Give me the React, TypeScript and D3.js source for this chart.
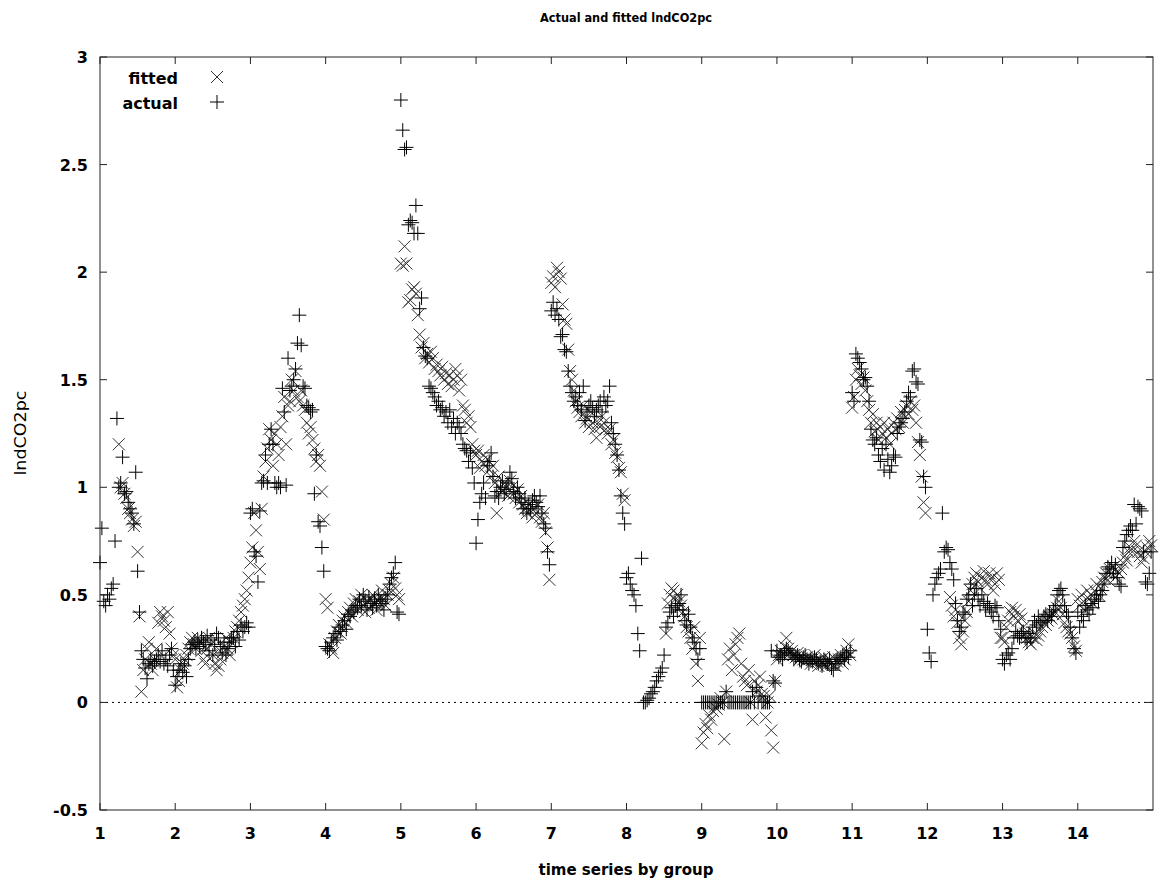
import React from 'react';
import * as d3 from 'd3';

// 14 groups, 40 observations each
const groups = [1, 2, 3, 4, 5, 6, 7, 8, 9, 10, 11, 12, 13, 14];
const obsPerGroup = 40;
const xTicks = [1, 2, 3, 4, 5, 6, 7, 8, 9, 10, 11, 12, 13, 14];
const yTicks = [-0.5, 0, 0.5, 1, 1.5, 2, 2.5, 3];
const yTickLabels = ['-0.5', '0', '0.5', '1', '1.5', '2', '2.5', '3'];

const actualG1 = [0.65, 0.81, 0.47, 0.45, 0.5, 0.48, 0.53, 0.55, 0.75, 1.32, 1.0, 1.02, 1.14, 0.97, 0.98, 0.93, 0.9, 0.88, 0.83, 1.07, 0.61, 0.42, 0.24, 0.2, 0.16, 0.11, 0.18, 0.2, 0.17, 0.19, 0.2, 0.22, 0.19, 0.24, 0.18, 0.2, 0.17, 0.22, 0.25, 0.15];
const fittedG1 = [null, null, null, null, null, null, null, null, null, null, 1.2, 1.0, 1.02, 0.97, 0.95, 0.9, 0.88, 0.85, 0.82, 0.84, 0.7, 0.4, 0.05, 0.15, 0.2, 0.25, 0.28, 0.18, 0.15, 0.2, 0.25, 0.37, 0.42, 0.4, 0.38, 0.35, 0.42, 0.32, 0.25, 0.22];

const actualG2 = [0.08, 0.12, 0.15, 0.18, 0.14, 0.17, 0.12, 0.2, 0.25, 0.27, 0.28, 0.25, 0.29, 0.26, 0.3, 0.28, 0.27, 0.31, 0.24, 0.29, 0.22, 0.27, 0.32, 0.3, 0.26, 0.23, 0.28, 0.22, 0.25, 0.28, 0.3, 0.3, 0.26, 0.33, 0.29, 0.36, 0.33, 0.35, 0.37, 0.35];
const fittedG2 = [0.2, 0.07, 0.1, 0.15, 0.18, 0.2, 0.22, 0.25, 0.28, 0.3, 0.27, 0.25, 0.3, 0.28, 0.24, 0.2, 0.18, 0.25, 0.3, 0.27, 0.22, 0.18, 0.15, 0.17, 0.2, 0.23, 0.26, 0.3, 0.25, 0.22, 0.28, 0.3, 0.33, 0.35, 0.38, 0.42, 0.45, 0.48, 0.52, 0.58];

const actualG3 = [0.88, 0.9, 0.7, 0.68, 0.56, 0.89, 1.02, 1.03, 1.15, 1.02, 1.2, 1.27, 1.2, 1.02, 1.0, 1.02, 1.0, 1.46, 1.35, 1.01, 1.6, 1.45, 1.47, 1.5, 1.55, 1.67, 1.8, 1.66, 1.47, 1.46, 1.38, 1.37, 1.35, 1.36, 0.97, 1.15, 0.84, 0.82, 0.72, 0.61];
const fittedG3 = [0.65, 0.72, 0.88, 0.8, 0.7, 0.62, 0.9, 1.05, 1.12, 1.18, 1.27, 1.22, 1.1, 1.25, 1.2, 1.15, 1.28, 1.33, 1.42, 1.2, 1.38, 1.4, 1.5, 1.45, 1.54, 1.42, 1.4, 1.45, 1.38, 1.36, 1.3, 1.25, 1.28, 1.22, 1.18, 1.12, 1.15, 1.1, 0.98, 0.85];

const actualG4 = [0.26, 0.25, 0.24, 0.28, 0.3, 0.32, 0.29, 0.35, 0.33, 0.36, 0.38, 0.34, 0.41, 0.4, 0.43, 0.42, 0.45, 0.44, 0.48, 0.45, 0.5, 0.47, 0.43, 0.49, 0.46, 0.44, 0.48, 0.45, 0.5, 0.47, 0.46, 0.43, 0.48, 0.5, 0.55, 0.58, 0.6, 0.65, 0.42, 0.41];
const fittedG4 = [0.48, 0.44, 0.27, 0.25, 0.23, 0.3, 0.33, 0.36, 0.32, 0.38, 0.4, 0.37, 0.42, 0.44, 0.4, 0.46, 0.48, 0.43, 0.47, 0.5, 0.45, 0.42, 0.47, 0.44, 0.48, 0.5, 0.46, 0.43, 0.47, 0.49, 0.52, 0.48, 0.45, 0.5, 0.52, 0.55, 0.58, 0.53, 0.5, 0.48];

const actualG5 = [2.8, 2.66, 2.57, 2.58, 2.22, 2.24, 2.23, 2.18, 2.31, 2.18, 1.83, 1.88, 1.65, 1.61, 1.6, 1.47, 1.46, 1.44, 1.42, 1.38, 1.4, 1.36, 1.37, 1.33, 1.35, 1.3, 1.36, 1.28, 1.32, 1.25, 1.3, 1.28, 1.25, 1.2, 1.18, 1.17, 1.12, 1.16, 1.09, 1.02];
const fittedG5 = [2.04, 2.03, 2.12, 2.04, 1.86, 1.87, 1.92, 1.93, 1.9, 1.8, 1.71, 1.65, 1.67, 1.6, 1.62, 1.58, 1.63, 1.6, 1.55, 1.57, 1.54, 1.52, 1.56, 1.5, 1.53, 1.48, 1.52, 1.47, 1.5, 1.55, 1.52, 1.45, 1.5, 1.38, 1.36, 1.3, 1.33, 1.28, 1.2, 1.17];

const actualG6 = [0.74, 0.85, 0.93, 0.97, 1.02, 0.95, 1.1, 1.12, 1.16, 1.05, 0.96, 0.98, 0.95, 1.0, 1.03, 0.97, 0.99, 1.02, 1.07, 1.04, 0.98, 0.95, 1.0, 0.97, 0.93, 0.9, 0.95, 0.88, 0.92, 0.9, 0.94, 0.96, 0.93, 0.91, 0.96, 0.88, 0.83, 0.81, 0.7, 0.64];
const fittedG6 = [1.15, 1.17, 1.09, 1.12, 1.15, 1.1, 1.13, 1.08, 1.05, 1.1, 1.02, 0.88, 1.05, 1.0, 0.98, 1.02, 1.0, 0.96, 1.03, 1.0, 0.97, 0.95, 0.99, 0.93, 0.96, 0.92, 0.9, 0.88, 0.92, 0.89, 0.86, 0.9, 0.88, 0.92, 0.86, 0.84, 0.88, 0.79, 0.72, 0.57];

const actualG7 = [1.82, 1.86, 1.8, 1.83, 1.78, 1.7, 1.71, 1.64, 1.63, 1.54, 1.47, 1.44, 1.4, 1.42, 1.38, 1.44, 1.36, 1.47, 1.31, 1.35, 1.38, 1.4, 1.37, 1.33, 1.36, 1.38, 1.4, 1.35, 1.42, 1.38, 1.4, 1.47, 1.3, 1.25, 1.2, 1.15, 1.08, 0.96, 0.88, 0.83];
const fittedG7 = [1.95, 1.98, 1.93, 2.02, 2.0, 1.97, 1.85, 1.78, 1.76, 1.64, 1.54, 1.5, 1.45, 1.4, 1.37, 1.35, 1.33, 1.38, 1.3, 1.32, 1.28, 1.35, 1.3, 1.27, 1.23, 1.3, 1.28, 1.33, 1.3, 1.27, 1.25, 1.27, 1.2, 1.22, 1.16, 1.14, 1.09, 1.07, 0.97, 0.94];

const actualG8 = [0.58, 0.6, 0.55, 0.52, 0.5, 0.45, 0.32, 0.24, 0.67, 0.0, 0.0, 0.01, 0.02, 0.04, 0.05, 0.07, 0.1, 0.12, 0.14, 0.16, 0.22, 0.35, 0.37, 0.42, 0.44, 0.4, 0.45, 0.43, 0.46, 0.5, 0.43, 0.38, 0.36, 0.41, 0.35, 0.3, 0.28, 0.25, 0.2, 0.25];
const fittedG8 = [null, null, null, null, null, null, null, null, null, null, null, null, null, null, null, null, null, null, null, null, null, 0.32, 0.46, 0.5, 0.53, 0.52, 0.48, 0.5, 0.47, 0.45, 0.42, 0.4, 0.35, 0.33, 0.3, 0.25, 0.35, 0.18, 0.1, 0.3];

const actualG9 = [0, 0, 0, 0, 0, 0, 0, 0, 0, 0, 0, 0, 0, 0.05, 0, 0, 0, 0, 0, 0, 0, 0, 0, 0, 0, 0, 0, 0.05, 0, 0.07, 0, 0.03, 0, 0, 0, 0, 0, 0.24, 0.1, 0.09];
const fittedG9 = [-0.19, -0.14, -0.1, -0.12, -0.06, -0.08, -0.04, -0.02, -0.03, -0.01, 0.02, 0.0, -0.17, 0.05, 0.2, 0.25, 0.15, 0.22, 0.27, 0.3, 0.32, 0.18, 0.12, 0.1, 0.08, 0.15, 0.0, -0.08, 0.1, 0.05, 0.08, 0.12, 0.04, 0.03, -0.07, 0.0, 0.03, -0.13, -0.21, 0.1];

const actualG10 = [0.24, 0.21, 0.22, 0.2, 0.23, 0.25, 0.24, 0.23, 0.22, 0.2, 0.21, 0.22, 0.2, 0.19, 0.21, 0.22, 0.2, 0.18, 0.2, 0.19, 0.21, 0.2, 0.18, 0.19, 0.17, 0.2, 0.19, 0.18, 0.2, 0.16, 0.15, 0.18, 0.2, 0.19, 0.21, 0.22, 0.2, 0.23, 0.21, 0.24];
const fittedG10 = [0.2, 0.22, 0.24, 0.22, 0.26, 0.3, 0.25, 0.23, 0.24, 0.22, 0.21, 0.23, 0.2, 0.22, 0.2, 0.19, 0.21, 0.2, 0.18, 0.2, 0.22, 0.19, 0.17, 0.2, 0.18, 0.21, 0.17, 0.19, 0.2, 0.18, 0.21, 0.17, 0.19, 0.2, 0.22, 0.18, 0.2, 0.24, 0.27, 0.22];

const actualG11 = [1.44, 1.4, 1.62, 1.6, 1.58, 1.55, 1.5, 1.51, 1.47, 1.4, 1.27, 1.22, 1.2, 1.23, 1.15, 1.12, 1.18, 1.08, 1.2, 1.13, 1.07, 1.1, 1.15, 1.14, 1.25, 1.28, 1.3, 1.32, 1.35, 1.4, 1.44, 1.42, 1.54, 1.55, 1.49, 1.48, 1.22, 1.21, 1.05, 1.0];
const fittedG11 = [1.37, 1.42, 1.5, 1.55, 1.52, 1.48, 1.51, 1.45, 1.4, 1.36, 1.3, 1.34, 1.26, 1.3, 1.22, 1.28, 1.25, 1.3, 1.23, 1.27, 1.2, 1.25, 1.3, 1.27, 1.32, 1.28, 1.35, 1.3, 1.36, 1.38, 1.34, 1.4, 1.36, 1.38, 1.3, 1.21, 1.15, 1.05, 0.93, 0.88];

const actualG12 = [0.34, 0.23, 0.19, 0.5, 0.55, 0.58, 0.6, 0.62, 0.88, 0.7, 0.72, 0.71, 0.65, 0.62, 0.57, 0.46, 0.38, 0.33, 0.35, 0.42, 0.41, 0.48, 0.5, 0.55, 0.45, 0.5, 0.53, 0.48, 0.45, 0.5, 0.47, 0.43, 0.46, 0.44, 0.42, 0.4, 0.45, 0.44, 0.38, 0.34];
const fittedG12 = [null, null, null, null, null, null, null, null, null, null, null, null, 0.49, 0.45, 0.4, 0.43, 0.37, 0.3, 0.27, 0.33, 0.38, 0.42, 0.47, 0.52, 0.55, 0.58, 0.6, 0.56, 0.53, 0.58, 0.61, 0.57, 0.55, 0.6, 0.58, 0.52, 0.55, 0.6, 0.57, 0.3];

const actualG13 = [0.2, 0.18, 0.22, 0.23, 0.2, 0.25, 0.3, 0.33, 0.31, 0.3, 0.32, 0.33, 0.3, 0.28, 0.32, 0.3, 0.35, 0.38, 0.36, 0.4, 0.37, 0.38, 0.4, 0.41, 0.38, 0.42, 0.4, 0.43, 0.45, 0.5, 0.52, 0.53, 0.5, 0.45, 0.42, 0.4, 0.35, 0.3, 0.25, 0.23];
const fittedG13 = [0.3, 0.28, 0.35, 0.38, 0.42, 0.44, 0.4, 0.43, 0.38, 0.41, 0.39, 0.35, 0.32, 0.3, 0.28, 0.27, 0.3, 0.32, 0.29, 0.31, 0.33, 0.35, 0.37, 0.36, 0.38, 0.4, 0.39, 0.41, 0.42, 0.44, 0.47, 0.44, 0.41, 0.37, 0.35, 0.33, 0.32, 0.3, 0.26, 0.24];

const actualG14 = [0.42, 0.35, 0.4, 0.38, 0.45, 0.43, 0.41, 0.46, 0.44, 0.48, 0.5, 0.47, 0.5, 0.52, 0.55, 0.6, 0.63, 0.62, 0.65, 0.6, 0.64, 0.58, 0.55, 0.54, 0.72, 0.75, 0.78, 0.8, 0.82, 0.8, 0.92, 0.83, 0.91, 0.9, 0.89, 0.7, 0.56, 0.55, 0.6, 0.7];
const fittedG14 = [0.48, 0.45, 0.5, 0.47, 0.43, 0.52, 0.48, 0.5, 0.46, 0.52, 0.55, 0.5, 0.53, 0.56, 0.58, 0.6, 0.57, 0.62, 0.6, 0.63, 0.58, 0.61, 0.6, 0.62, 0.65, 0.68, 0.66, 0.7, 0.72, 0.7, 0.75, 0.73, 0.7, 0.68, 0.65, 0.67, 0.7, 0.72, 0.75, 0.73];

const actualByGroup = [actualG1, actualG2, actualG3, actualG4, actualG5, actualG6, actualG7, actualG8, actualG9, actualG10, actualG11, actualG12, actualG13, actualG14];
const fittedByGroup = [fittedG1, fittedG2, fittedG3, fittedG4, fittedG5, fittedG6, fittedG7, fittedG8, fittedG9, fittedG10, fittedG11, fittedG12, fittedG13, fittedG14];

const width = 1168;
const height = 886;
const plot = { left: 100, right: 1153, top: 57, bottom: 810 };

const x = d3.scaleLinear().domain([1, 15]).range([plot.left, plot.right]);
const y = d3.scaleLinear().domain([-0.5, 3]).range([plot.bottom, plot.top]);

const toPoints = (series: (number | null)[][]) =>
  series.flatMap((vals, gi) =>
    vals
      .map((v, t) => (v === null ? null : { cx: x(groups[gi] + t / obsPerGroup), cy: y(v) }))
      .filter((p): p is { cx: number; cy: number } => p !== null)
  );

const plusPath = (pts: { cx: number; cy: number }[], s = 7) =>
  pts.map(p => `M${p.cx - s},${p.cy}h${2 * s}M${p.cx},${p.cy - s}v${2 * s}`).join('');
const crossPath = (pts: { cx: number; cy: number }[], s = 6) =>
  pts.map(p => `M${p.cx - s},${p.cy - s}l${2 * s},${2 * s}M${p.cx - s},${p.cy + s}l${2 * s},${-2 * s}`).join('');

const font = 'DejaVu Sans, Verdana, sans-serif';

const App = () => {
  const fittedPts = toPoints(fittedByGroup);
  const actualPts = toPoints(actualByGroup);
  const tickLen = 7;

  return (
    <svg width={width} height={height} style={{ position: 'absolute', left: 0, top: 0, background: '#fff' }}
      fontFamily={font}>
      <rect x={0} y={0} width={width} height={height} fill="#fff" />

      {/* title */}
      <text x={626} y={22} textAnchor="middle" fontWeight="bold" fontSize={12}
        textLength={172} lengthAdjust="spacingAndGlyphs">Actual and fitted lndCO2pc</text>

      {/* zero line */}
      <line x1={plot.left} x2={plot.right} y1={y(0)} y2={y(0)} stroke="#000" strokeDasharray="2,4" />

      {/* markers */}
      <path d={crossPath(fittedPts)} stroke="#333" strokeWidth={1} fill="none" />
      <path d={plusPath(actualPts)} stroke="#000" strokeWidth={1} fill="none" />

      {/* frame */}
      <rect x={plot.left} y={plot.top} width={plot.right - plot.left} height={plot.bottom - plot.top}
        fill="none" stroke="#222" strokeWidth={1} />

      {/* x ticks */}
      {xTicks.map(t => (
        <g key={'x' + t}>
          <line x1={x(t)} x2={x(t)} y1={plot.bottom} y2={plot.bottom - tickLen} stroke="#222" />
          <line x1={x(t)} x2={x(t)} y1={plot.top} y2={plot.top + tickLen} stroke="#222" />
          <text x={x(t)} y={839} textAnchor="middle" fontWeight="bold" fontSize={16}>{t}</text>
        </g>
      ))}

      {/* y ticks */}
      {yTicks.map((t, i) => (
        <g key={'y' + t}>
          <line x1={plot.left} x2={plot.left + tickLen} y1={y(t)} y2={y(t)} stroke="#222" />
          <line x1={plot.right} x2={plot.right - tickLen} y1={y(t)} y2={y(t)} stroke="#222" />
          <text x={88} y={y(t) + 6} textAnchor="end" fontWeight="bold" fontSize={16}>{yTickLabels[i]}</text>
        </g>
      ))}

      {/* axis titles */}
      <text x={626} y={875} textAnchor="middle" fontWeight="bold" fontSize={15}
        textLength={175} lengthAdjust="spacingAndGlyphs">time series by group</text>
      <text transform="translate(26,433) rotate(-90)" textAnchor="middle" fontSize={15}
        textLength={85} lengthAdjust="spacingAndGlyphs">lndCO2pc</text>

      {/* legend */}
      <text x={178} y={84} textAnchor="end" fontWeight="bold" fontSize={16}>fitted</text>
      <path d={crossPath([{ cx: 217, cy: 77 }])} stroke="#333" fill="none" />
      <text x={178} y={109} textAnchor="end" fontWeight="bold" fontSize={16}>actual</text>
      <path d={plusPath([{ cx: 217, cy: 102 }])} stroke="#000" fill="none" />
    </svg>
  );
};

export default App;
